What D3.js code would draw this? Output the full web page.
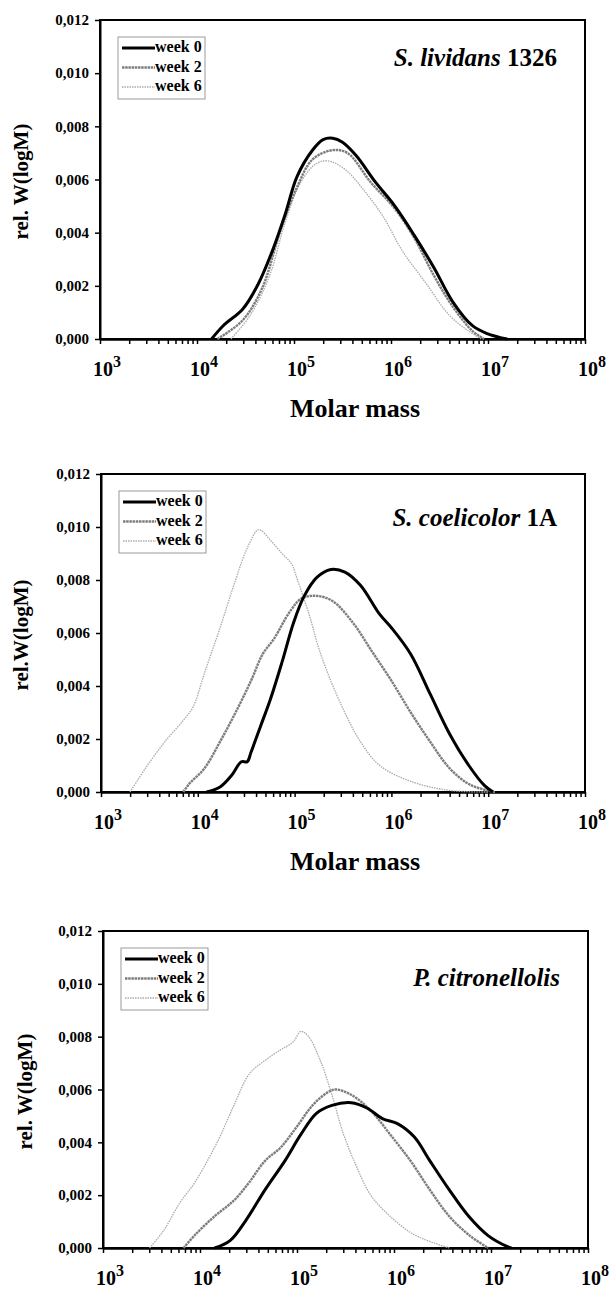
<!DOCTYPE html>
<html>
<head>
<meta charset="utf-8">
<script src="https://cdn.jsdelivr.net/npm/d3@7"></script>
<style>
  body { margin: 0; background: #fff; }
  text { font-family: "Liberation Serif", "Times New Roman", serif; font-weight: bold; fill: #000; }
</style>
</head>
<body>
<svg id="chart" width="614" height="1289"></svg>
<script>
// les séries (semaines de dégradation)
const seriesNames = ["week 0", "week 2", "week 6"];
const yTicks = [0, 0.002, 0.004, 0.006, 0.008, 0.010, 0.012];
const xDecades = [3, 4, 5, 6, 7, 8];

// S. lividans 1326 : [log10(M), W]
const lividansWeek0 = [[4.15,0],[4.27,0.0005],[4.47,0.00112],[4.63,0.00206],[4.79,0.00344],[4.91,0.0047],[5.03,0.0061],[5.19,0.0071],[5.3,0.0075],[5.4,0.00755],[5.5,0.0074],[5.64,0.0069],[5.84,0.0059],[6.04,0.005],[6.24,0.0039],[6.44,0.0027],[6.64,0.00138],[6.84,0.0005],[7.0,0.00019],[7.14,0.00004],[7.2,0]];
const lividansWeek2 = [[4.21,0],[4.47,0.0007],[4.67,0.0019],[4.87,0.0042],[5.03,0.0057],[5.19,0.00675],[5.39,0.0071],[5.55,0.007],[5.79,0.0059],[6.04,0.0049],[6.24,0.0038],[6.44,0.0024],[6.64,0.0012],[6.84,0.0003],[6.96,0]];
const lividansWeek6 = [[4.35,0],[4.55,0.0009],[4.75,0.0024],[4.91,0.0044],[5.07,0.0059],[5.23,0.0066],[5.35,0.0067],[5.52,0.0064],[5.72,0.0056],[5.92,0.0046],[6.12,0.0033],[6.36,0.0021],[6.6,0.0009],[6.8,0.0003],[6.93,0]];

// S. coelicolor 1A
const coelicolorWeek0 = [[4.09,0],[4.23,0.00019],[4.35,0.00063],[4.45,0.00114],[4.51,0.00114],[4.55,0.0015],[4.65,0.0025],[4.75,0.0035],[4.87,0.0049],[4.99,0.0064],[5.1,0.0074],[5.23,0.0081],[5.375,0.0084],[5.52,0.0083],[5.68,0.0078],[5.88,0.0067],[6.0,0.0062],[6.2,0.0052],[6.4,0.0037],[6.6,0.0022],[6.8,0.001],[6.96,0.00025],[7.05,0]];
const coelicolorWeek2 = [[3.85,0],[3.91,0.0003],[4.07,0.0009],[4.23,0.0019],[4.39,0.003],[4.55,0.0042],[4.67,0.0052],[4.79,0.0058],[4.95,0.0068],[5.07,0.0073],[5.23,0.0074],[5.395,0.0072],[5.6,0.0064],[5.8,0.0053],[6.0,0.0042],[6.2,0.003],[6.4,0.0019],[6.6,0.0009],[6.8,0.0003],[7.0,0.00005],[7.07,0]];
const coelicolorWeek6 = [[3.3,0],[3.46,0.0009],[3.66,0.0019],[3.85,0.0027],[3.95,0.0032],[4.07,0.0045],[4.23,0.0062],[4.39,0.008],[4.51,0.0092],[4.63,0.0099],[4.75,0.0095],[4.87,0.009],[4.97,0.0086],[5.03,0.008],[5.15,0.0067],[5.27,0.0052],[5.48,0.0033],[5.68,0.0019],[5.88,0.001],[6.2,0.0004],[6.6,0.00006],[7.0,0]];

// P. citronellolis
const citronellolisWeek0 = [[4.15,0],[4.31,0.00028],[4.47,0.00103],[4.67,0.0022],[4.875,0.0033],[5.04,0.0043],[5.2,0.0051],[5.36,0.0054],[5.56,0.0055],[5.72,0.0053],[5.88,0.0049],[6.04,0.0047],[6.21,0.0042],[6.37,0.0033],[6.57,0.0022],[6.77,0.0012],[6.97,0.00047],[7.17,0.00005],[7.21,0]];
const citronellolisWeek2 = [[3.83,0],[3.95,0.0005],[4.15,0.0012],[4.35,0.0018],[4.51,0.0025],[4.67,0.0033],[4.83,0.0038],[5.0,0.0046],[5.16,0.0054],[5.32,0.0059],[5.4,0.006],[5.56,0.0058],[5.76,0.0052],[5.96,0.0043],[6.17,0.0033],[6.37,0.0022],[6.57,0.0012],[6.77,0.0005],[6.97,0]];
const citronellolisWeek6 = [[3.48,0],[3.625,0.00066],[3.79,0.0017],[3.95,0.0025],[4.19,0.0041],[4.35,0.0054],[4.51,0.0066],[4.67,0.0071],[4.83,0.0075],[4.96,0.0078],[5.04,0.0082],[5.12,0.008],[5.24,0.0071],[5.36,0.0058],[5.48,0.0043],[5.6,0.0032],[5.76,0.002],[5.96,0.0012],[6.21,0.0005],[6.57,0]];

// style des courbes
const seriesStyle = [
  { color: "#000", width: 3, dash: null },
  { color: "#7d7d7d", width: 2.4, dash: "2.5 0.7" },
  { color: "#ababab", width: 1.3, dash: "1.5 1" }
];

// mise en page des trois graphes
const panels = [
  { italic: "S. lividans", plain: " 1326", ylabel: "rel. W(logM)", xtitle: true,
    left: 100, right: 585, top: 20, bottom: 339, titleY: 66, labelX: 21,
    series: [lividansWeek0, lividansWeek2, lividansWeek6] },
  { italic: "S. coelicolor", plain: " 1A", ylabel: "rel.W(logM)", xtitle: true,
    left: 101, right: 585, top: 474, bottom: 792, titleY: 526, labelX: 21,
    series: [coelicolorWeek0, coelicolorWeek2, coelicolorWeek6] },
  { italic: "P. citronellolis", plain: "", ylabel: "rel. W(logM)", xtitle: false,
    left: 103, right: 588, top: 931, bottom: 1248, titleY: 986, labelX: 25,
    series: [citronellolisWeek0, citronellolisWeek2, citronellolisWeek6] }
];

const svg = d3.select("#chart");
const fmt = d => d3.format(".3f")(d).replace(".", ",");

// ticks mineurs de l'échelle log
const minorTicks = [];
xDecades.slice(0, -1).forEach(e => {
  for (let k = 1; k <= 9; k++) minorTicks.push(k * Math.pow(10, e));
});
minorTicks.push(1e8);

panels.forEach(p => {
  const x = d3.scaleLog().domain([1e3, 1e8]).range([p.left, p.right]);
  const y = d3.scaleLinear().domain([0, 0.012]).range([p.bottom, p.top]);
  const g = svg.append("g");

  // cadre
  g.append("rect")
    .attr("x", p.left).attr("y", p.top)
    .attr("width", p.right - p.left).attr("height", p.bottom - p.top)
    .attr("fill", "none").attr("stroke", "#000").attr("stroke-width", 2);

  // axe y
  const yAxis = g.append("g")
    .attr("transform", `translate(${p.left},0)`)
    .call(d3.axisLeft(y).tickValues(yTicks).tickSize(5).tickSizeOuter(0).tickPadding(6).tickFormat(fmt));
  yAxis.select(".domain").attr("stroke-width", 2);
  yAxis.selectAll(".tick line").attr("stroke-width", 1.5);
  yAxis.selectAll("text").style("font-size", "15px").attr("fill", "#000");

  // axe x
  const xAxis = g.append("g")
    .attr("transform", `translate(0,${p.bottom})`)
    .call(d3.axisBottom(x).tickValues(minorTicks).tickSize(5).tickSizeOuter(0).tickFormat(() => ""));
  xAxis.select(".domain").attr("stroke-width", 2.5);
  xAxis.selectAll(".tick line").attr("stroke-width", 1.5);

  // étiquettes 10^n
  const lab = g.selectAll(".xlab")
    .data(xDecades)
    .enter()
    .append("text")
    .attr("class", "xlab")
    .attr("x", d => x(Math.pow(10, d)) - 7)
    .attr("y", p.bottom + 37)
    .style("font-size", "20px");
  lab.append("tspan").text("10");
  lab.append("tspan").attr("dy", -9).style("font-size", "16px").text(d => d);

  if (p.xtitle) {
    g.append("text")
      .attr("x", 355).attr("y", p.bottom + 78)
      .attr("text-anchor", "middle")
      .style("font-size", "26px")
      .text("Molar mass");
  }

  // titre de l'axe y
  g.append("text")
    .attr("transform", `translate(${p.labelX},${(p.top + p.bottom) / 2 + 2}) rotate(-90)`)
    .attr("text-anchor", "middle")
    .attr("dy", "0.35em")
    .style("font-size", "21px")
    .text(p.ylabel);

  // courbes
  const line = d3.line()
    .x(d => x(Math.pow(10, d[0])))
    .y(d => y(d[1]))
    .curve(d3.curveCatmullRom.alpha(0.5));

  // on dessine du plus clair au plus foncé
  [2, 1, 0].forEach(i => {
    const s = seriesStyle[i];
    g.append("path")
      .datum(p.series[i])
      .attr("d", line)
      .attr("fill", "none")
      .attr("stroke", s.color)
      .attr("stroke-width", s.width)
      .attr("stroke-dasharray", s.dash)
      .attr("stroke-linejoin", "round");
  });

  // titre de la souche
  const t = g.append("text")
    .attr("x", p.right - 28).attr("y", p.titleY)
    .attr("text-anchor", "end")
    .style("font-size", "25px");
  t.append("tspan").style("font-style", "italic").text(p.italic);
  if (p.plain) t.append("tspan").text(p.plain);

  // légende
  const lx = p.left + 18, ly = p.top + 17;
  g.append("rect")
    .attr("x", lx).attr("y", ly).attr("width", 87).attr("height", 62)
    .attr("fill", "#fff").attr("stroke", "#9a9a9a").attr("stroke-width", 1);
  seriesNames.forEach((name, i) => {
    const s = seriesStyle[i];
    const ry = ly + 15 + i * 19.5;
    g.append("line")
      .attr("x1", lx + 4).attr("x2", lx + 37)
      .attr("y1", ry - 4).attr("y2", ry - 4)
      .attr("stroke", s.color).attr("stroke-width", s.width)
      .attr("stroke-dasharray", s.dash);
    g.append("text")
      .attr("x", lx + 37).attr("y", ry)
      .style("font-size", "16px")
      .text(name);
  });
});
</script>
</body>
</html>
